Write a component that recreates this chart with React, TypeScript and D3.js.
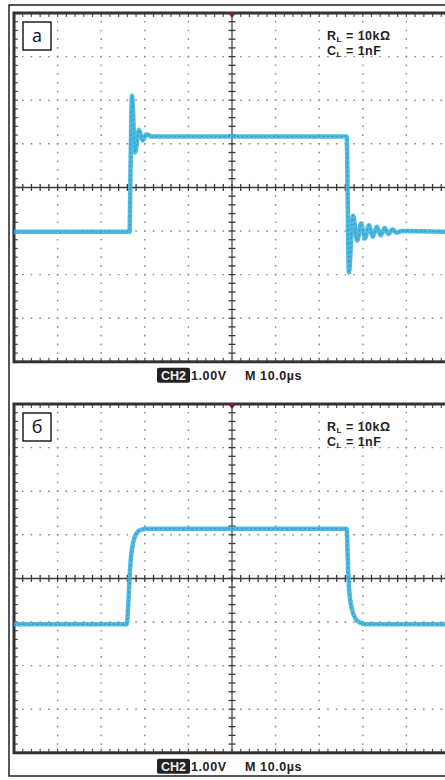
import React from "react";
import * as d3 from "d3";

// scope screen: 10 x 8 divisions, 10 us/div, 1 V/div
const panelLabels = ["а", "б"];
const timeA = [0, 26.5, 26.75, 27.06, 27.75, 28.67, 29.5, 30.4, 31.4, 76.3, 76.8, 77.75, 78.7, 79.6, 80.5, 81.4, 82.3, 83.2, 84.1, 85.0, 85.9, 86.8, 87.7, 89.0, 100];
const voltA = [-1.02, -1.02, 0.6, 2.1, 0.8, 1.32, 1.08, 1.22, 1.17, 1.17, -1.95, -0.65, -1.22, -0.83, -1.17, -0.87, -1.13, -0.9, -1.1, -0.93, -1.07, -0.96, -1.04, -1.0, -1.02];
const timeB = [0, 25.9, 26.2, 26.5, 26.8, 27.2, 27.7, 28.4, 29.3, 30.5, 76.3, 76.6, 76.9, 77.5, 78.3, 79.3, 80.7, 100];
const voltB = [-1.05, -1.05, -0.6, 0.0, 0.45, 0.75, 0.95, 1.07, 1.12, 1.14, 1.14, 0.3, -0.3, -0.7, -0.92, -1.01, -1.05, -1.05];
const loadR = "10kΩ";
const loadC = "1nF";
const chLabel = "CH2";
const voltsDiv = "1.00V";
const timeDiv = "M 10.0µs";

const W = 445;
const H = 780;
const DIV = 43.6;
const LEFT = 14;
const panelTops = [13, 404];
const traceColor = "#3db3dc";

function Panel({ top, label, times, volts }: { top: number; label: string; times: number[]; volts: number[] }) {
  const x = d3.scaleLinear().domain([0, 100]).range([LEFT, LEFT + 10 * DIV]);
  const y = d3.scaleLinear().domain([-4, 4]).range([top + 8 * DIV, top]);
  const bottom = y(-4);
  const right = x(100);
  const step = DIV / 5;
  const line = d3
    .line<number>()
    .x((_, i) => x(times[i]))
    .y((v) => y(v))
    .curve(d3.curveMonotoneX);
  const path = line(volts) || "";
  const vMajor = d3.range(10, 100, 10).filter((t) => t !== 50);
  const hMajor = d3.range(-3, 4, 1).filter((v) => v !== 0);
  const minorT = d3.range(0, 100.01, 2);
  const minorV = d3.range(-4, 4.01, 0.2);
  const dot = `1.6 ${step - 1.6}`;
  return (
    <g>
      {vMajor.map((t) => (
        <line key={"v" + t} x1={x(t)} x2={x(t)} y1={top} y2={bottom} stroke="#8a8a8a" strokeWidth={1.4} strokeDasharray={dot} strokeDashoffset={0.8} />
      ))}
      {hMajor.map((v) => (
        <line key={"h" + v} x1={LEFT} x2={right} y1={y(v)} y2={y(v)} stroke="#8a8a8a" strokeWidth={1.4} strokeDasharray={dot} strokeDashoffset={0.8} />
      ))}
      {/* centre axes with fine ticks */}
      <line x1={LEFT} x2={right} y1={y(0)} y2={y(0)} stroke="#3a3a3a" strokeWidth={1.5} />
      <line x1={x(50)} x2={x(50)} y1={top} y2={bottom} stroke="#3a3a3a" strokeWidth={1.2} />
      {minorT.map((t) => (
        <g key={"tt" + t}>
          <line x1={x(t)} x2={x(t)} y1={y(0) - 3.5} y2={y(0) + 3.5} stroke="#3a3a3a" strokeWidth={1.3} />
          <line x1={x(t)} x2={x(t)} y1={top} y2={top + 4} stroke="#555" strokeWidth={1.2} />
          <line x1={x(t)} x2={x(t)} y1={bottom - 4} y2={bottom} stroke="#555" strokeWidth={1.2} />
        </g>
      ))}
      {minorV.map((v) => (
        <g key={"tv" + v.toFixed(1)}>
          <line x1={x(50) - 3.5} x2={x(50) + 3.5} y1={y(v)} y2={y(v)} stroke="#3a3a3a" strokeWidth={1.3} />
          <line x1={LEFT} x2={LEFT + 4} y1={y(v)} y2={y(v)} stroke="#555" strokeWidth={1.2} />
        </g>
      ))}
      <rect x={LEFT} y={top} width={right - LEFT} height={bottom - top} fill="none" stroke="#333" strokeWidth={3} />
      {/* trigger marker */}
      <path d={`M${x(50) - 4},${top} L${x(50) + 4},${top} L${x(50)},${top + 5} Z`} fill="#8b1d3c" />
      {/* trace */}
      <path d={path} fill="none" stroke={traceColor} strokeWidth={4.5} strokeLinejoin="round" opacity={0.9} />
      <path d={path} fill="none" stroke="#2196c6" strokeWidth={1.4} strokeDasharray="2 2.5" opacity={0.7} />
      {/* panel letter */}
      <rect x={23} y={top + 9} width={28} height={28} fill="#fff" stroke="#111" strokeWidth={1.4} />
      <text x={37} y={top + 29} textAnchor="middle" fontFamily="'Open Sans', sans-serif" fontSize={18} fill="#111">{label}</text>
      {/* load annotation */}
      <g fontFamily="'Liberation Sans', Arial, sans-serif" fontWeight="bold" fontSize={12.5} fill="#222" letterSpacing={0.5}>
        <text x={327} y={top + 27}>
          R<tspan fontSize={8} dy={2}>L</tspan>
          <tspan dy={-2}> = {loadR}</tspan>
        </text>
        <text x={327} y={top + 42}>
          C<tspan fontSize={8} dy={2}>L</tspan>
          <tspan dy={-2}> = {loadC}</tspan>
        </text>
      </g>
      {/* scale readout */}
      <g fontFamily="'Liberation Sans', Arial, sans-serif" fontWeight="bold" fontSize={12.5} fill="#222" letterSpacing={0.6}>
        <rect x={157} y={bottom + 6} width={33} height={15} rx={2} fill="#222" />
        <text x={173.5} y={bottom + 18} textAnchor="middle" fill="#eee" letterSpacing={0}>{chLabel}</text>
        <text x={191} y={bottom + 18}>{voltsDiv}</text>
        <text x={245} y={bottom + 18}>{timeDiv}</text>
      </g>
    </g>
  );
}

export default function App() {
  return (
    <svg width={W} height={H} style={{ position: "absolute", left: 0, top: 0, background: "#fff" }}>
      <rect x={0} y={0} width={W} height={H} fill="#fff" />
      <rect x={9} y={5} width={W} height={771} fill="none" stroke="#111" strokeWidth={1.4} />
      <Panel top={panelTops[0]} label={panelLabels[0]} times={timeA} volts={voltA} />
      <Panel top={panelTops[1]} label={panelLabels[1]} times={timeB} volts={voltB} />
    </svg>
  );
}
